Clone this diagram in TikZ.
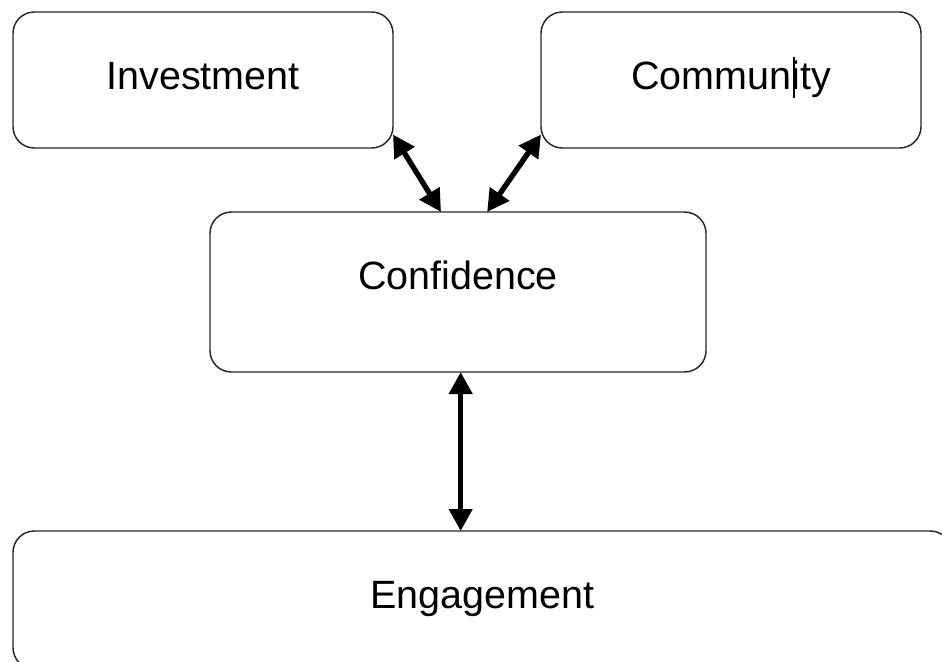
\documentclass[tikz,border=0pt]{standalone}
\usepackage{fontspec}
\setmainfont{Liberation Sans}
\usetikzlibrary{arrows.meta}

\begin{document}
\begin{tikzpicture}[
  x=0.75pt,
  y=-0.75pt,
  line join=round,
  box/.style={draw=black!85,line width=1.1pt,rounded corners=16pt,anchor=north west,
    inner sep=0pt,outer sep=0pt,font=\fontsize{29.6}{35}\selectfont,text height=58pt},
  link/.style={line width=4pt,{Triangle[length=16.5pt,width=17pt]}-{Triangle[length=16.5pt,width=17pt]}}
]
  \path[use as bounding box] (0,0) rectangle (942,661);
  \clip (0,0) rectangle (942,661);

  % Top row and the centre box; the text sits a fixed gap below each top edge.
  \node[box,minimum width=285pt,text depth=44pt] (inv) at (13,12) {Investment};
  \node[box,minimum width=285pt,text depth=44pt] (com) at (541,12) {Community};
  \node[box,minimum width=372pt,text depth=62pt] (conf) at (210,212) {Confidence};

  % Bottom box runs past the right and lower edges.
  \node[box,minimum width=704pt,text depth=45.5pt] (eng) at (13,531) {Engagement};

  % Caret left in the text.
  \draw[line width=0.8pt] (794,57) -- (794,98);

  % Two-way links.
  \draw[link] (inv.-16) -- (conf.102);
  \draw[link] (com.196) -- (conf.70);
  \draw[link] ([xshift=2pt]conf.south) -- ([xshift=2pt]conf.south |- eng.north);
\end{tikzpicture}
\end{document}
